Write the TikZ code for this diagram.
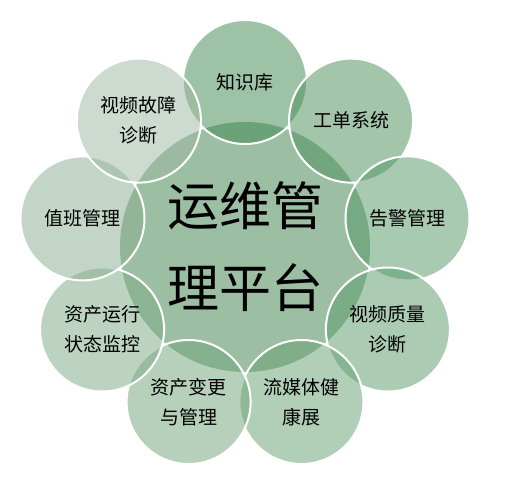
\documentclass[tikz,border=0pt]{standalone}
\usepackage{fontspec}
\newfontfamily\cjk{Noto Sans CJK SC}
\definecolor{cP}{RGB}{156,190,163}
\definecolor{c1}{RGB}{61,135,77}
\definecolor{c2}{RGB}{73,143,89}
\definecolor{c3}{RGB}{81,151,99}
\definecolor{c4}{RGB}{89,155,105}
\definecolor{c5}{RGB}{101,159,113}
\definecolor{c6}{RGB}{111,163,121}
\definecolor{c7}{RGB}{125,169,133}
\definecolor{c8}{RGB}{137,173,143}
\definecolor{c9}{RGB}{157,183,161}
\begin{document}
\begin{tikzpicture}[x=1pt,y=-1pt,
  sat/.style={circle, minimum size=124pt, inner sep=0pt, draw=white, line width=2pt,
    fill opacity=0.5, draw opacity=1, text opacity=1, text=black,
    font=\cjk\fontsize{19}{30}\selectfont, align=center},
  hub/.style={circle, minimum size=250pt, inner sep=0pt, fill=cP, text=black,
    font=\cjk\fontsize{52}{82}\selectfont, align=center}]
\fill[white] (0,0) rectangle (522,486);
\useasboundingbox (0,0) rectangle (522,486);
\node[hub] (hub) at (245,247) {运维管\\理平台};
\node[sat, fill=c1] (s1) at (245,82) {知识库};
\node[sat, fill=c2] (s2) at (351.1,120.6) {工单系统};
\node[sat, fill=c3] (s3) at (407.5,218.4) {告警管理};
\node[sat, fill=c4] (s4) at (387.9,329.5) {视频质量\\诊断};
\node[sat, fill=c5] (s5) at (301.4,402.0) {流媒体健\\康展};
\node[sat, fill=c6] (s6) at (188.6,402.0) {资产变更\\与管理};
\node[sat, fill=c7] (s7) at (102.1,329.5) {资产运行\\状态监控};
\node[sat, fill=c8] (s8) at (82.5,218.4) {值班管理};
\node[sat, fill=c9] (s9) at (138.9,120.6) {视频故障\\诊断};
\end{tikzpicture}
\end{document}
